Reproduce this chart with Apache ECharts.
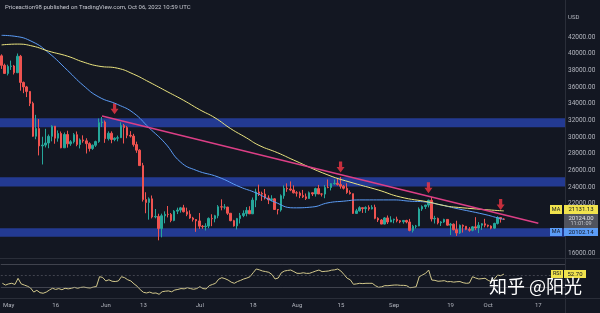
<!DOCTYPE html>
<html>
<head>
<meta charset="utf-8">
<script src="https://cdn.jsdelivr.net/npm/echarts@6/dist/echarts.min.js"></script>
<style>
  html, body { margin: 0; padding: 0; background: #131722; }
  #chart { width: 600px; height: 313px; }
</style>
</head>
<body>
<div id="chart"></div>
<script>
// BTC daily candles, 2022-04-29 .. 2022-10-06 : [open, close, low, high]
var candles = [
  [39740, 38600, 38170, 39920], [38600, 37630, 37580, 38800], [37630, 38470, 37390, 38680], [38470, 38520, 38050, 39170],
  [38520, 37720, 37500, 38650], [37720, 39690, 37660, 40020], [39690, 36550, 35560, 39850], [36550, 36010, 35260, 36650],
  [36010, 35470, 34790, 36130], [35470, 34040, 33710, 35500], [34040, 30090, 30030, 34240], [30090, 31010, 29730, 32660],
  [31010, 28930, 27790, 32150], [28930, 29030, 26700, 30030], [29030, 29280, 28750, 30980], [29280, 30080, 28650, 30300],
  [30080, 31300, 29480, 31410], [31300, 29860, 29190, 31320], [29860, 30420, 29440, 30790], [30420, 28700, 28650, 30660],
  [28700, 30300, 28680, 30540], [30300, 29180, 28720, 30750], [29180, 29430, 28940, 29620], [29430, 30280, 29230, 30470],
  [30280, 29100, 28890, 30660], [29100, 29650, 28630, 29830], [29650, 29540, 29310, 30200], [29540, 29200, 28020, 29850],
  [29200, 28620, 28260, 29370], [28620, 29010, 28450, 29100], [29010, 29450, 28810, 29560], [29450, 31720, 29300, 32220],
  [31720, 31800, 31200, 32400], [31800, 29800, 29300, 31980], [29800, 30450, 29580, 30680], [30450, 29700, 29250, 30680],
  [29700, 29860, 29490, 29950], [29860, 29910, 29480, 30170], [29910, 31370, 29880, 31770], [31370, 31130, 29220, 31560],
  [31130, 30200, 29850, 31330], [30200, 30110, 29940, 30700], [30110, 29090, 28850, 30380], [29090, 28420, 28100, 29440],
  [28420, 26570, 26560, 28540], [26570, 22490, 22250, 26900], [22490, 22140, 20850, 23370], [22140, 22580, 20080, 22760],
  [22580, 20400, 20230, 22980], [20400, 20470, 20240, 21360], [20470, 19010, 17600, 20790], [19010, 20550, 17960, 20800],
  [20550, 20720, 19640, 21080], [20720, 20710, 20350, 21720], [20710, 19990, 19770, 20880], [19990, 21100, 19890, 21220],
  [21100, 21230, 20750, 21520], [21230, 21500, 20920, 21610], [21500, 21030, 20950, 21860], [21030, 20730, 20500, 21520],
  [20730, 20280, 20180, 21200], [20280, 20100, 19850, 20420], [20100, 19930, 18620, 20140], [19930, 19300, 18970, 20880],
  [19300, 19240, 18980, 19430], [19240, 19310, 18780, 19650], [19310, 20230, 19050, 20350], [20230, 20190, 19300, 20730],
  [20190, 20550, 19760, 20660], [20550, 21630, 20250, 21830], [21630, 21590, 21200, 22520], [21590, 21590, 21320, 21950],
  [21590, 20850, 20650, 21620], [20850, 19960, 19890, 20870], [19960, 19330, 19250, 20060], [19330, 20210, 18910, 20290],
  [20210, 20570, 19620, 20890], [20570, 20830, 20380, 21200], [20830, 21190, 20480, 21590], [21190, 20780, 20760, 21690],
  [20780, 22430, 20770, 22740], [22430, 23400, 21580, 23800], [23400, 23230, 22920, 24280], [23230, 23150, 22340, 23440],
  [23150, 22680, 22500, 23760], [22680, 22450, 21950, 23000], [22450, 22580, 22270, 23010], [22580, 21300, 21250, 22660],
  [21300, 21240, 20710, 21350], [21240, 22950, 21040, 23110], [22950, 23850, 22590, 24200], [23850, 23770, 23420, 24440],
  [23770, 23640, 23500, 24670], [23640, 23300, 23230, 24200], [23300, 23270, 22850, 23510], [23270, 22980, 22660, 23460],
  [22980, 22820, 22680, 23650], [22820, 22620, 22440, 23220], [22620, 23310, 22590, 23460], [23310, 23170, 22920, 23350],
  [23170, 23810, 22850, 23920], [23810, 23160, 23150, 24250], [23160, 23150, 22860, 23230], [23150, 23950, 22650, 24230],
  [23950, 23940, 23850, 24900], [23940, 24400, 23590, 24450], [24400, 24440, 24280, 24900], [24440, 24310, 24170, 25050],
  [24310, 24100, 23800, 25210], [24100, 23850, 23700, 24240], [23850, 23340, 23180, 24450], [23340, 23200, 23100, 23600],
  [23200, 20830, 20770, 23200], [20830, 21140, 20760, 21380], [21140, 21520, 21050, 21690], [21520, 21400, 20890, 21520],
  [21400, 21530, 20890, 21680], [21530, 21370, 21150, 21800], [21370, 21560, 21310, 21820], [21560, 20240, 20130, 21880],
  [20240, 20040, 19800, 20370], [20040, 19550, 19540, 20160], [19550, 20290, 19520, 20390], [20290, 19800, 19560, 20580],
  [19800, 20050, 19790, 20490], [20050, 20130, 19650, 20200], [20130, 19950, 19760, 20440], [19950, 19830, 19660, 20020],
  [19830, 19990, 19600, 20000], [19990, 19800, 19640, 20060], [19800, 18790, 18680, 20170], [18790, 19290, 18540, 19460],
  [19290, 19320, 19010, 19450], [19320, 21360, 19300, 21560], [21360, 21650, 21130, 21800], [21650, 21830, 21360, 21860],
  [21830, 22400, 21550, 22490], [22400, 20170, 19860, 22800], [20170, 20230, 19620, 20540], [20230, 19700, 19510, 20330],
  [19700, 19800, 19320, 19900], [19800, 20110, 19700, 20190], [20110, 19420, 19360, 20120], [19420, 19540, 18230, 19690],
  [19540, 18880, 18790, 19630], [18880, 18480, 18130, 19950], [18480, 19400, 18370, 19500], [19400, 19290, 18530, 19500],
  [19290, 18920, 18820, 19310], [18920, 18800, 18630, 19180], [18800, 19220, 18680, 19310], [19220, 19080, 18820, 20380],
  [19080, 19410, 18470, 19790], [19410, 19590, 18850, 19650], [19590, 19420, 19160, 20180], [19420, 19310, 19160, 19480],
  [19310, 19060, 18920, 19400], [19060, 19630, 19000, 19710], [19630, 20340, 19500, 20480], [20340, 20160, 19730, 20370],
  [20160, 20124, 20060, 20260]
]

// x categories: one per day, Apr 29 .. Oct 25 (empty space right of the last candle)
var dates = []
var day0 = Date.UTC(2022, 3, 29)
for (var i = 0; i < 180; i++) {
  dates.push(new Date(day0 + i * 86400000).toISOString().slice(0, 10))
}
var tickDates = ['2022-05-01', '2022-05-16', '2022-06-01', '2022-06-13', '2022-07-01', '2022-07-18',
  '2022-08-01', '2022-08-15', '2022-09-01', '2022-09-19', '2022-10-01', '2022-10-17']
var tickLabels = ['May', '16', 'Jun', '13', 'Jul', '18', 'Aug', '15', 'Sep', '19', 'Oct', '17']

// blue moving average
var maBlueDates = ['2022-04-29', '2022-05-03', '2022-05-09', '2022-05-14', '2022-05-20', '2022-05-25', '2022-05-30',
  '2022-06-05', '2022-06-10', '2022-06-15', '2022-06-20', '2022-06-25', '2022-06-30', '2022-07-07', '2022-07-14',
  '2022-07-19', '2022-07-25', '2022-07-31', '2022-08-06', '2022-08-11', '2022-08-16', '2022-08-21', '2022-09-01',
  '2022-09-06', '2022-09-11', '2022-09-16', '2022-09-20', '2022-09-30', '2022-10-04', '2022-10-06']
var maBlueValues = [42200, 42100, 41400, 40100, 38000, 36200, 34800, 33900, 32900, 31100, 29300, 27000, 26000,
  25200, 24000, 23300, 22200, 21500, 21600, 22100, 22300, 22450, 22450, 22300, 22200, 21850, 21500, 20700, 20300, 20102]

// yellow moving average
var maYellowDates = ['2022-04-29', '2022-05-04', '2022-05-09', '2022-05-14', '2022-05-20', '2022-05-25', '2022-05-30',
  '2022-06-05', '2022-06-10', '2022-06-15', '2022-06-21', '2022-06-26', '2022-07-01', '2022-07-06', '2022-07-11',
  '2022-07-16', '2022-07-20', '2022-07-26', '2022-07-31', '2022-08-11', '2022-08-19', '2022-08-27', '2022-09-03',
  '2022-09-12', '2022-09-16', '2022-09-20', '2022-10-06']
var maYellowValues = [41050, 41150, 40900, 40300, 39700, 39000, 38500, 38250, 37550, 36600, 35400, 34400, 33300,
  32300, 31000, 29900, 29000, 28100, 27240, 25440, 24480, 23640, 22800, 22200, 21850, 21600, 21131]

// descending trendline
var trendDates = ['2022-05-31', '2022-10-17']
var trendValues = [32520, 19640]

// support / resistance zones [top, bottom]
var zones = [[32240, 31160], [25160, 24060], [19060, 18020]]

// red arrows
var arrowDates = ['2022-06-04', '2022-08-15', '2022-09-12', '2022-10-05']
var arrowPrices = [33400, 26400, 23900, 21900]

// RSI
var rsiDates = ['04-29', '04-30', '05-01', '05-02', '05-03', '05-04', '05-05', '05-06', '05-07', '05-08', '05-09',
  '05-10', '05-11', '05-12', '05-13', '05-14', '05-15', '05-16', '05-17', '05-18', '05-19', '05-20', '05-21', '05-22',
  '05-23', '05-24', '05-25', '05-26', '05-27', '05-28', '05-29', '05-30', '05-31', '06-01', '06-02', '06-03', '06-04',
  '06-05', '06-06', '06-07', '06-08', '06-09', '06-10', '06-11', '06-12', '06-13', '06-14', '06-15', '06-16', '06-17',
  '06-18', '06-19', '06-20', '06-21', '06-22', '06-23', '06-24', '06-25', '06-26', '06-27', '06-28', '06-29', '06-30',
  '07-01', '07-02', '07-03', '07-04', '07-05', '07-06', '07-07', '07-08', '07-09', '07-10', '07-11', '07-12', '07-13',
  '07-14', '07-15', '07-16', '07-17', '07-18', '07-19', '07-20', '07-21', '07-22', '07-23', '07-24', '07-25', '07-26',
  '07-27', '07-28', '07-29', '07-30', '07-31', '08-01', '08-02', '08-03', '08-04', '08-05', '08-06', '08-07', '08-08',
  '08-09', '08-10', '08-11', '08-12', '08-13', '08-14', '08-15', '08-16', '08-17', '08-18', '08-19', '08-20', '08-21',
  '08-22', '08-23', '08-24', '08-25', '08-26', '08-27', '08-28', '08-29', '08-30', '08-31', '09-01', '09-02', '09-03',
  '09-04', '09-05', '09-06', '09-07', '09-08', '09-09', '09-10', '09-11', '09-12', '09-13', '09-14', '09-15', '09-16',
  '09-17', '09-18', '09-19', '09-20', '09-21', '09-22', '09-23', '09-24', '09-25', '09-26', '09-27', '09-28', '09-29',
  '09-30', '10-01', '10-02', '10-03', '10-04', '10-05', '10-06']
var rsiValues = [37, 34, 36, 37, 35, 45.5, 36, 34, 32, 29, 22,
  25, 21, 20, 22, 25.5, 28.5, 26.5, 28, 26, 28.5, 27.5, 28.5, 30,
  28.5, 30, 30.5, 29.5, 29, 30.5, 31.5, 48.3, 47, 41, 43, 40.5, 40,
  41, 48.3, 46.6, 43, 41, 36, 32, 26, 21.6, 20.5, 22, 20, 20.5,
  18.2, 22.7, 23.5, 24, 22.5, 25.5, 26.5, 28, 27.5, 29.5, 28, 26.8, 28,
  31.2, 28, 27.3, 33, 35, 37, 44, 46.6, 45, 42.6, 39, 37, 40,
  42, 44.4, 46, 48.3, 55, 61.5, 60, 58, 57, 55.8, 52, 44.4, 46,
  55, 58, 59, 59.7, 57, 54.1, 54, 55, 54, 54.1, 56, 58, 59.7,
  57, 57.5, 58, 59.5, 60, 61.5, 58, 52, 45.6, 43, 35.3, 36, 37,
  36.5, 37, 37, 37, 33, 30.2, 31, 33, 32.9, 33.5, 34, 34.1, 33.5,
  33.5, 32.9, 29.5, 30, 31, 48.3, 51.2, 54, 59.7, 42.6, 42, 40.5, 40.9,
  41.5, 39.7, 40, 39, 39.7, 40, 38, 37, 37.5, 48.3, 46, 44.4, 45,
  45.6, 42, 39.7, 44.4, 51, 50, 52.7]

var axisText = '#b2b5be'
var lineGrey = '#2a2e39'

var chartObj = echarts.init(document.getElementById('chart'))

var option = {
  backgroundColor: '#131722',
  animation: false,
  grid: [
    { left: 0, right: 35, top: 20.333, height: 233.333 }, // price pane
    { left: 0, right: 35, top: 258.15, height: 40.95 } // RSI pane
  ],
  xAxis: [
    {
      type: 'category', gridIndex: 0, data: dates,
      axisLine: { show: false }, axisTick: { show: false }, axisLabel: { show: false }
    },
    {
      type: 'category', gridIndex: 1, data: dates,
      axisLine: { show: false }, axisTick: { show: false },
      axisLabel: {
        color: axisText, fontSize: 6, fontFamily: 'Roboto', margin: 3,
        interval: function (idx, val) { return tickDates.indexOf(val) >= 0 },
        formatter: function (val) { return tickLabels[tickDates.indexOf(val)] || '' }
      }
    }
  ],
  yAxis: [
    {
      type: 'value', gridIndex: 0, position: 'right', min: 16000, max: 44000, interval: 2000,
      axisLine: { show: false }, axisTick: { show: false }, splitLine: { show: false },
      axisLabel: {
        color: axisText, fontSize: 6.5, fontFamily: 'Roboto', margin: 3, align: 'left',
        formatter: function (v) { // hidden ones sit under the price tags
          if (v === 44000 || v === 20000 || v === 18000) return ''
          return v.toFixed(2)
        }
      }
    },
    {
      type: 'value', gridIndex: 1, position: 'right', min: 10, max: 80,
      axisLine: { show: false }, axisTick: { show: false }, splitLine: { show: false },
      axisLabel: { show: false }
    }
  ],
  series: [
    {
      type: 'candlestick', xAxisIndex: 0, yAxisIndex: 0, data: candles, barWidth: 2,
      itemStyle: { color: '#26a69a', color0: '#ef5350', borderColor: '#26a69a', borderColor0: '#ef5350', borderWidth: 1 },
      markArea: {
        silent: true,
        itemStyle: { color: 'rgba(45,80,215,0.62)' },
        data: zones.map(function (z) { return [{ yAxis: z[0] }, { yAxis: z[1] }] })
      }
    },
    {
      type: 'line', xAxisIndex: 0, yAxisIndex: 0, smooth: true, symbol: 'none',
      lineStyle: { color: '#5b9cf6', width: 1 },
      data: maBlueDates.map(function (d, i) { return [d, maBlueValues[i]] })
    },
    {
      type: 'line', xAxisIndex: 0, yAxisIndex: 0, smooth: true, symbol: 'none',
      lineStyle: { color: '#ece57f', width: 1 },
      data: maYellowDates.map(function (d, i) { return [d, maYellowValues[i]] })
    },
    {
      type: 'line', xAxisIndex: 0, yAxisIndex: 0, symbol: 'none',
      lineStyle: { color: '#dc3f86', width: 1.5 },
      data: trendDates.map(function (d, i) { return [d, trendValues[i]] })
    },
    {
      type: 'scatter', xAxisIndex: 0, yAxisIndex: 0,
      symbol: 'path://M3,0 L7,0 L7,5 L10,5 L5,10 L0,5 L3,5 Z', symbolSize: [8, 11],
      itemStyle: { color: '#f23645' },
      data: arrowDates.map(function (d, i) { return [d, arrowPrices[i]] })
    },
    {
      type: 'line', xAxisIndex: 1, yAxisIndex: 1, symbol: 'none',
      lineStyle: { color: '#d3c98c', width: 1 },
      data: rsiDates.map(function (d, i) { return ['2022-' + d, rsiValues[i]] }),
      markLine: {
        silent: true, symbol: 'none', label: { show: false },
        data: [
          { yAxis: 70, lineStyle: { color: 'rgba(120,123,134,0.45)', type: 'solid', width: 1 } },
          { yAxis: 50, lineStyle: { color: 'rgba(120,123,134,0.45)', type: [2, 2], width: 1 } },
          { yAxis: 30, lineStyle: { color: 'rgba(120,123,134,0.45)', type: 'solid', width: 1 } }
        ]
      }
    }
  ],
  graphic: [
    { type: 'text', left: 5, top: 4, style: { text: 'Priceaction98 published on TradingView.com, Oct 06, 2022 10:59 UTC', fill: '#c7c9d1', fontSize: 6, fontFamily: 'Roboto' } },
    { type: 'text', left: 568, top: 14, style: { text: 'USD', fill: axisText, fontSize: 6, fontFamily: 'Roboto' } },
    { type: 'line', shape: { x1: 565.5, y1: 0, x2: 565.5, y2: 313 }, style: { stroke: lineGrey, lineWidth: 1 } },
    { type: 'line', shape: { x1: 0, y1: 258.5, x2: 600, y2: 258.5 }, style: { stroke: lineGrey, lineWidth: 1 } },
    { type: 'line', shape: { x1: 0, y1: 298.5, x2: 600, y2: 298.5 }, style: { stroke: lineGrey, lineWidth: 1 } },
    // yellow MA tag
    { type: 'rect', shape: { x: 550, y: 205, width: 12, height: 9 }, style: { fill: '#f0e24d' }, z: 10 },
    { type: 'text', x: 556, y: 209.5, z: 11, style: { text: 'MA', fill: '#131722', fontSize: 5.5, fontFamily: 'Roboto', align: 'center', verticalAlign: 'middle' } },
    { type: 'rect', shape: { x: 564, y: 205, width: 34, height: 9 }, style: { fill: '#f0e24d' }, z: 10 },
    { type: 'text', x: 581, y: 209.5, z: 11, style: { text: '21131.13', fill: '#131722', fontSize: 6, fontFamily: 'Roboto', align: 'center', verticalAlign: 'middle' } },
    // last price + countdown
    { type: 'rect', shape: { x: 564, y: 214, width: 34, height: 14 }, style: { fill: '#50535e' }, z: 10 },
    { type: 'text', x: 581, y: 218, z: 11, style: { text: '20124.00', fill: '#e6e7ea', fontSize: 6, fontFamily: 'Roboto', align: 'center', verticalAlign: 'middle' } },
    { type: 'text', x: 581, y: 224, z: 11, style: { text: '11:01:09', fill: '#c4c6cc', fontSize: 5.5, fontFamily: 'Roboto', align: 'center', verticalAlign: 'middle' } },
    // blue MA tag
    { type: 'rect', shape: { x: 550, y: 228, width: 12, height: 8 }, style: { fill: '#5b9cf6' }, z: 10 },
    { type: 'text', x: 556, y: 232, z: 11, style: { text: 'MA', fill: '#131722', fontSize: 5.5, fontFamily: 'Roboto', align: 'center', verticalAlign: 'middle' } },
    { type: 'rect', shape: { x: 564, y: 228, width: 34, height: 8 }, style: { fill: '#5b9cf6' }, z: 10 },
    { type: 'text', x: 581, y: 232, z: 11, style: { text: '20102.14', fill: '#131722', fontSize: 6, fontFamily: 'Roboto', align: 'center', verticalAlign: 'middle' } },
    // RSI tag
    { type: 'rect', shape: { x: 551, y: 270, width: 12, height: 8 }, style: { fill: '#f0e24d' }, z: 10 },
    { type: 'text', x: 557, y: 274, z: 11, style: { text: 'RSI', fill: '#131722', fontSize: 5.5, fontFamily: 'Roboto', align: 'center', verticalAlign: 'middle' } },
    { type: 'rect', shape: { x: 564, y: 270, width: 22, height: 8 }, style: { fill: '#f0e24d' }, z: 10 },
    { type: 'text', x: 575, y: 274, z: 11, style: { text: '52.70', fill: '#131722', fontSize: 6, fontFamily: 'Roboto', align: 'center', verticalAlign: 'middle' } },
    // watermark
    { type: 'text', left: 489, top: 277, z: 12, style: { text: '知乎 @阳光', fill: '#ffffff', fontSize: 18, fontFamily: 'Noto Sans CJK SC' } }
  ]
}
chartObj.setOption(option)
</script>
</body>
</html>
